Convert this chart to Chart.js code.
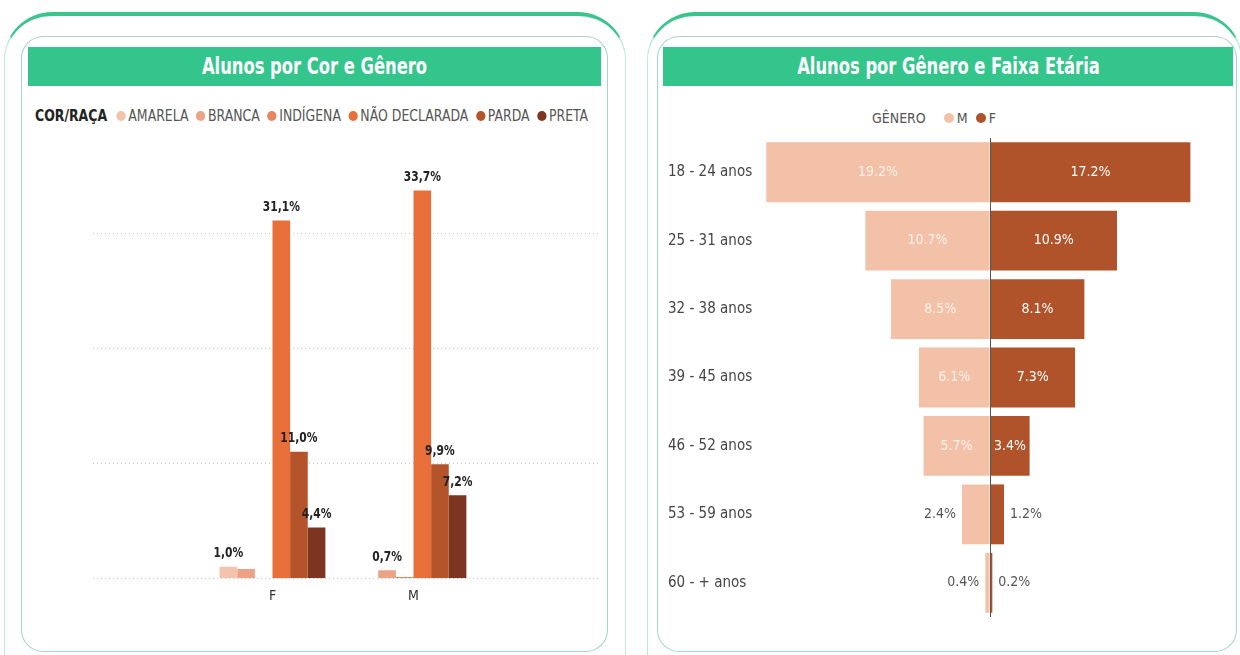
<!DOCTYPE html>
<html lang="pt-BR">
<head>
  <meta charset="UTF-8">
  <title>Alunos por Cor, Gênero e Faixa Etária</title>
  <script src="https://cdn.jsdelivr.net/npm/chart.js"></script>
  <style>
    body {
      margin: 0;
      width: 1240px;
      height: 655px;
      overflow: hidden;
      background: #fff;
      font-family: 'DejaVu Sans Condensed', 'Liberation Sans', sans-serif;
      position: relative;
    }
    .outer {
      position: absolute;
      top: 12px;
      height: 700px;
      border-top: 4px solid #3cc48e;
      border-left: 1.5px solid #bfe9d9;
      border-right: 1.5px solid #bfe9d9;
      border-radius: 48px 48px 0 0;
      box-sizing: border-box;
    }
    .inner {
      position: absolute;
      top: 36px;
      height: 616px;
      border: 1.5px solid #9fd9c8;
      border-top-color: #b9cdc7;
      border-radius: 22px;
      box-sizing: border-box;
      background: #fff;
    }
    .banner {
      position: absolute;
      top: 47px;
      height: 39px;
      background: #33c58c;
      color: #fff;
      font-weight: bold;
      font-size: 23px;
      line-height: 39px;
      text-align: center;
    }
    .banner span { display: inline-block; transform: scaleX(0.79); }
    .legend {
      position: absolute;
      display: flex;
      align-items: center;
      font-size: 15px;
      color: #555;
      white-space: nowrap;
      transform-origin: left center;
    }
    .legend b { color: #222; margin-right: 10px; }
    .legend .item { display: flex; align-items: center; margin-right: 8px; }
    .legend .dot { width: 10px; height: 10px; border-radius: 50%; margin-right: 3px; }
    canvas { position: absolute; }
  </style>
</head>
<body>
  <div class="outer" style="left:4px; width:622px;"></div>
  <div class="inner" style="left:21px; width:587px;"></div>
  <div class="banner" style="left:28px; width:573px;"><span>Alunos por Cor e Gênero</span></div>
  <div class="legend" id="legendRace" style="left:35px; top:107px; transform:scaleX(0.925);"><b>COR/RAÇA</b></div>
  <div id="wrapRace" style="position:absolute; left:21px; top:130px; width:587px; height:490px;">
    <canvas id="raceChart"></canvas>
  </div>

  <div class="outer" style="left:647px; width:595px;"></div>
  <div class="inner" style="left:657px; width:580px;"></div>
  <div class="banner" style="left:663px; width:570px;"><span>Alunos por Gênero e Faixa Etária</span></div>
  <div class="legend" id="legendAge" style="left:872px; top:110px; font-size:14px;"><span style="margin-right:18px;">GÊNERO</span></div>
  <div id="wrapAge" style="position:absolute; left:668px; top:129px; width:560px; height:497px;">
    <canvas id="ageChart"></canvas>
  </div>

  <script>
    // ---- Alunos por Cor e Gênero ----
    const genders = ['F', 'M'];
    const races = ['AMARELA', 'BRANCA', 'INDÍGENA', 'NÃO DECLARADA', 'PARDA', 'PRETA'];
    const raceColors = ['#f4c3ab', '#eba285', '#e9845c', '#e86f39', '#b3542b', '#7c3520'];
    const amarela = [1.0, 0];
    const branca = [0.8, 0.7];
    const indigena = [0, 0.1];
    const naoDeclarada = [31.1, 33.7];
    const parda = [11.0, 9.9];
    const preta = [4.4, 7.2];
    const raceGrid = [0, 10, 20, 30];

    // ---- Alunos por Gênero e Faixa Etária ----
    const ageGroups = ['18 - 24 anos', '25 - 31 anos', '32 - 38 anos', '39 - 45 anos', '46 - 52 anos', '53 - 59 anos', '60 - + anos'];
    const male = [19.2, 10.7, 8.5, 6.1, 5.7, 2.4, 0.4];
    const female = [17.2, 10.9, 8.1, 7.3, 3.4, 1.2, 0.2];
    const genderNames = ['M', 'F'];
    const genderColors = ['#f3c1a8', '#b0532a'];

    const FONT = "'DejaVu Sans Condensed', 'Liberation Sans', sans-serif";
    Chart.defaults.font.family = FONT;

    // html legends
    const legRace = document.getElementById('legendRace');
    races.forEach((r, i) => {
      legRace.insertAdjacentHTML('beforeend',
        `<span class="item"><span class="dot" style="background:${raceColors[i]}"></span>${r}</span>`);
    });
    const legAge = document.getElementById('legendAge');
    genderNames.forEach((g, i) => {
      legAge.insertAdjacentHTML('beforeend',
        `<span class="item"><span class="dot" style="background:${genderColors[i]}"></span>${g}</span>`);
    });

    // dotted grid across the whole card width
    const wideGrid = {
      id: 'wideGrid',
      beforeDatasetsDraw(chart) {
        const ctx = chart.ctx, y = chart.scales.y;
        ctx.save();
        ctx.strokeStyle = '#c8c8c8';
        ctx.lineWidth = 1;
        ctx.setLineDash([1, 3]);
        raceGrid.forEach(v => {
          const py = Math.round(y.getPixelForValue(v)) + 0.5;
          ctx.beginPath();
          ctx.moveTo(72, py);
          ctx.lineTo(577, py);
          ctx.stroke();
        });
        ctx.restore();
      }
    };

    // value labels above bars, skipping ones that collide
    const raceLabels = {
      id: 'raceLabels',
      afterDatasetsDraw(chart) {
        const ctx = chart.ctx;
        ctx.save();
        ctx.font = 'bold 14px ' + FONT;
        ctx.fillStyle = '#222';
        ctx.textAlign = 'center';
        ctx.textBaseline = 'bottom';
        const boxes = [];
        genders.forEach((g, gi) => {
          chart.data.datasets.forEach((ds, di) => {
            const v = ds.data[gi];
            if (!v) return;
            const bar = chart.getDatasetMeta(di).data[gi];
            const txt = v.toFixed(1).replace('.', ',') + '%';
            const w = ctx.measureText(txt).width * 0.85;
            const box = { x1: bar.x - w / 2, x2: bar.x + w / 2, y1: bar.y - 20, y2: bar.y - 4 };
            if (boxes.some(b => b.x1 < box.x2 && box.x1 < b.x2 && b.y1 < box.y2 && box.y1 < b.y2)) return;
            boxes.push(box);
            ctx.save();
            ctx.translate(bar.x, bar.y - 6);
            ctx.scale(0.85, 1);
            ctx.fillText(txt, 0, 0);
            ctx.restore();
          });
        });
        ctx.restore();
      }
    };

    new Chart(document.getElementById('raceChart'), {
      type: 'bar',
      data: {
        labels: genders,
        datasets: [amarela, branca, indigena, naoDeclarada, parda, preta].map((d, i) => ({
          label: races[i],
          data: d,
          backgroundColor: raceColors[i]
        }))
      },
      options: {
        responsive: true,
        maintainAspectRatio: false,
        animation: false,
        layout: { padding: { left: 181, right: 124, top: 34, bottom: 5 } },
        datasets: { bar: { categoryPercentage: 0.75, barPercentage: 1 } },
        plugins: { legend: { display: false }, tooltip: { enabled: false } },
        scales: {
          x: {
            grid: { display: false, drawTicks: false },
            border: { display: false },
            ticks: { color: '#333', font: { size: 14 }, padding: 10 }
          },
          y: { display: false, min: 0, max: 36 }
        }
      },
      plugins: [wideGrid, raceLabels]
    });

    // labels inside (or beside) the pyramid bars
    const ageLabels = {
      id: 'ageLabels',
      afterDatasetsDraw(chart) {
        const ctx = chart.ctx;
        ctx.save();
        ctx.font = '14px ' + FONT;
        ctx.textBaseline = 'middle';
        const sources = [male, female];
        chart.data.datasets.forEach((ds, di) => {
          chart.getDatasetMeta(di).data.forEach((bar, i) => {
            const v = sources[di][i];
            const txt = v.toFixed(1) + '%';
            const left = Math.min(bar.x, bar.base), right = Math.max(bar.x, bar.base);
            if (v >= 3) {
              ctx.fillStyle = di === 0 ? '#fdf1ea' : '#ffffff';
              ctx.textAlign = 'center';
              ctx.fillText(txt, (left + right) / 2, bar.y);
            } else {
              ctx.fillStyle = '#555';
              if (di === 0) { ctx.textAlign = 'right'; ctx.fillText(txt, left - 6, bar.y); }
              else { ctx.textAlign = 'left'; ctx.fillText(txt, right + 6, bar.y); }
            }
          });
        });
        ctx.restore();
      }
    };

    new Chart(document.getElementById('ageChart'), {
      type: 'bar',
      data: {
        labels: ageGroups,
        datasets: [
          { label: 'M', data: male.map(v => -v), backgroundColor: genderColors[0] },
          { label: 'F', data: female, backgroundColor: genderColors[1] }
        ]
      },
      options: {
        indexAxis: 'y',
        responsive: true,
        maintainAspectRatio: false,
        animation: false,
        layout: { padding: { left: 0, right: 5, top: 2, bottom: 3 } },
        datasets: { bar: { categoryPercentage: 1, barPercentage: 0.875 } },
        plugins: { legend: { display: false }, tooltip: { enabled: false } },
        scales: {
          x: {
            stacked: true,
            min: -20,
            max: 20,
            ticks: { display: false, stepSize: 5 },
            border: { display: false },
            grid: {
              drawTicks: false,
              color: c => (c.tick && c.tick.value === 0 ? '#555' : 'rgba(0,0,0,0)'),
              z: 1
            }
          },
          y: {
            stacked: true,
            border: { display: false },
            grid: { display: false, drawTicks: false },
            afterFit: s => { s.width = 89; },
            ticks: { color: '#444', font: { size: 15 }, crossAlign: 'far', padding: 0 }
          }
        }
      },
      plugins: [ageLabels]
    });
  </script>
</body>
</html>
